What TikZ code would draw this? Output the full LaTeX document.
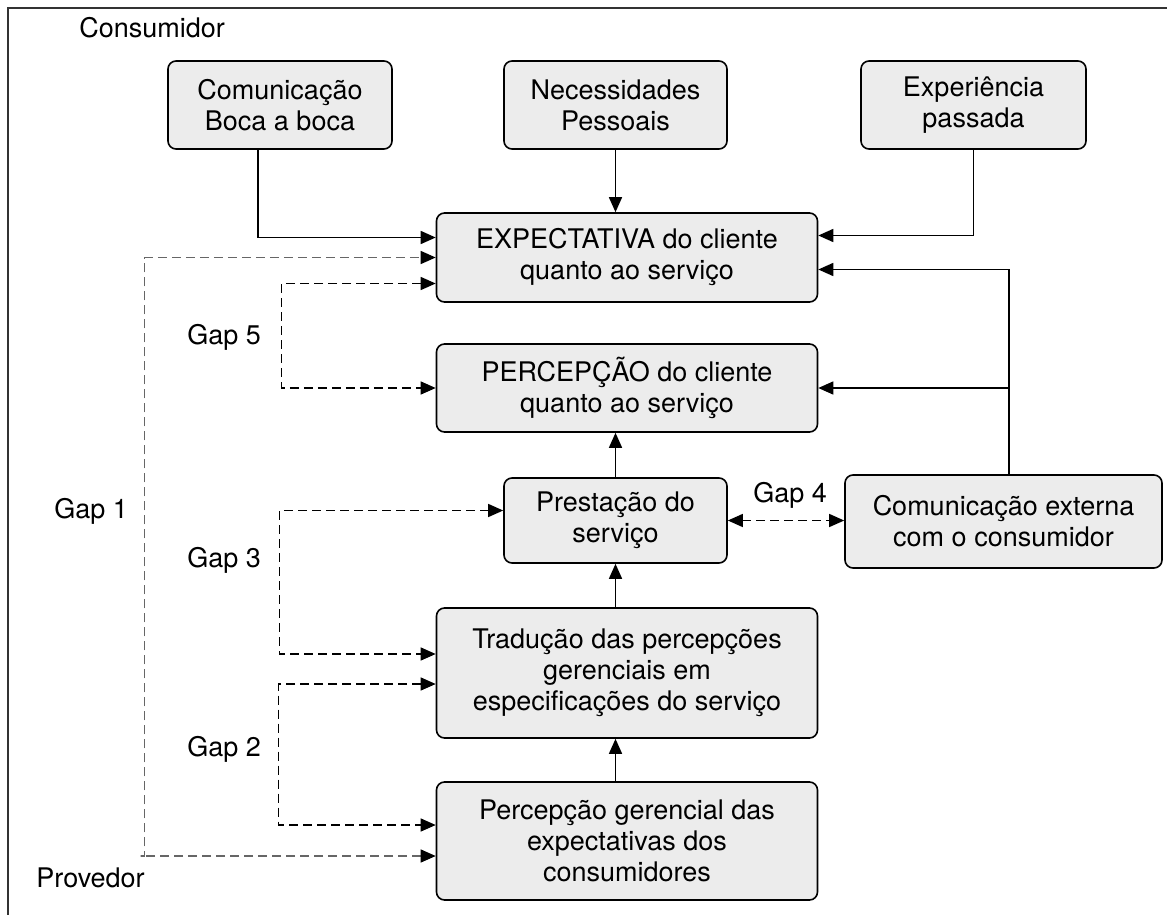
\documentclass[tikz,border=0pt]{standalone}
\usepackage{fontspec}
\setmainfont{TeX Gyre Heros}
\usetikzlibrary{arrows.meta,calc}

\begin{document}
\begin{tikzpicture}[x=0.5pt,y=-0.5pt, every node/.style={font=\fontsize{13.5}{15.5}\selectfont},
    box/.style={draw, rectangle, rounded corners=4pt, fill=gray!15, align=center, line width=0.8pt, inner sep=0pt},
    flow/.style={line width=0.75pt, -{Triangle[length=7.5pt,width=6.5pt]}},
    gapline/.style={line width=0.65pt, dash pattern=on 4.5pt off 2.5pt, {Triangle[length=7.5pt,width=6.5pt,color=black]}-{Triangle[length=7.5pt,width=6.5pt,color=black]}},
    lbl/.style={anchor=base west, inner sep=0pt}]
    \useasboundingbox (0,0) rectangle (1167,915);
    \draw[line width=0.9pt, black!80] (8,915) -- (8,8) -- (1167,8);
    \node[lbl] (consumidor) at (79,38) {Consumidor};
    \node[lbl] (provedor) at (36,887) {Provedor};
    \node[box, minimum width=112pt, minimum height=44pt] (boca) at (280,105) {Comunicação\\Boca a boca};
    \node[box, minimum width=111.5pt, minimum height=44pt] (neces) at (615.5,105) {Necessidades\\Pessoais};
    \node[box, minimum width=112.5pt, minimum height=44pt] (exper) at (973.5,105) {Experiência\\passada};
    \node[box, minimum width=190.5pt, minimum height=44.5pt] (expect) at (627,257.5) {EXPECTATIVA do cliente\\quanto ao serviço};
    \node[box, minimum width=190.5pt, minimum height=44pt] (percep) at (627,388) {PERCEPÇÃO do cliente\\quanto ao serviço};
    \node[box, minimum width=111.5pt, minimum height=42.5pt] (prest) at (615.5,520.5) {Prestação do\\serviço};
    \node[box, minimum width=158.5pt, minimum height=46.5pt] (ext) at (1003.5,521.5) {Comunicação externa\\com o consumidor};
    \node[box, minimum width=190.5pt, minimum height=65pt] (trad) at (627,673) {Tradução das percepções\\gerenciais em\\especificações do serviço};
    \node[box, minimum width=190.5pt, minimum height=59pt] (ger) at (627,841) {Percepção gerencial das\\expectativas dos\\consumidores};
    \draw[flow] ([xshift=-11pt]boca.south) |- ([yshift=10pt]expect.west);
    \draw[flow] (neces.south) -- (neces.south |- expect.north);
    \draw[flow] (exper.south) |- ([yshift=11pt]expect.east);
    \draw[flow] ([xshift=2.75pt]ext.north) |- ([yshift=-6pt]expect.east);
    \draw[flow] ([xshift=2.75pt]ext.north) |- (percep.east);
    \draw[flow] (prest.north) -- (prest.north |- percep.south);
    \draw[flow] (prest.south |- trad.north) -- (prest.south);
    \draw[flow] (prest.south |- ger.north) -- (prest.south |- trad.south);
    \draw[gapline, draw=black!60] ([yshift=-7.5pt]ger.west) -- ++(-295,0) -- ++(4,0) |- (expect.west);
    \draw[gapline] ([yshift=-13pt]expect.west) -- ++(-154,0) |- (percep.west);
    \draw[gapline] ([yshift=5pt]prest.west) -- ++(-224,0) |- ([yshift=9.5pt]trad.west);
    \draw[gapline] ([yshift=-5.5pt]trad.west) -- ++(-157,0) |- ([yshift=8pt]ger.west);
    \draw[gapline] (prest.east) -- (prest.east -| ext.west);
    \node[lbl] (gap1) at (54,518) {Gap 1};
    \node[lbl] (gap5) at (187,344) {Gap 5};
    \node[lbl] (gap3) at (187,567) {Gap 3};
    \node[lbl] (gap2) at (187,756) {Gap 2};
    \node[lbl] (gap4) at (753,502) {Gap 4};
\end{tikzpicture}
\end{document}
